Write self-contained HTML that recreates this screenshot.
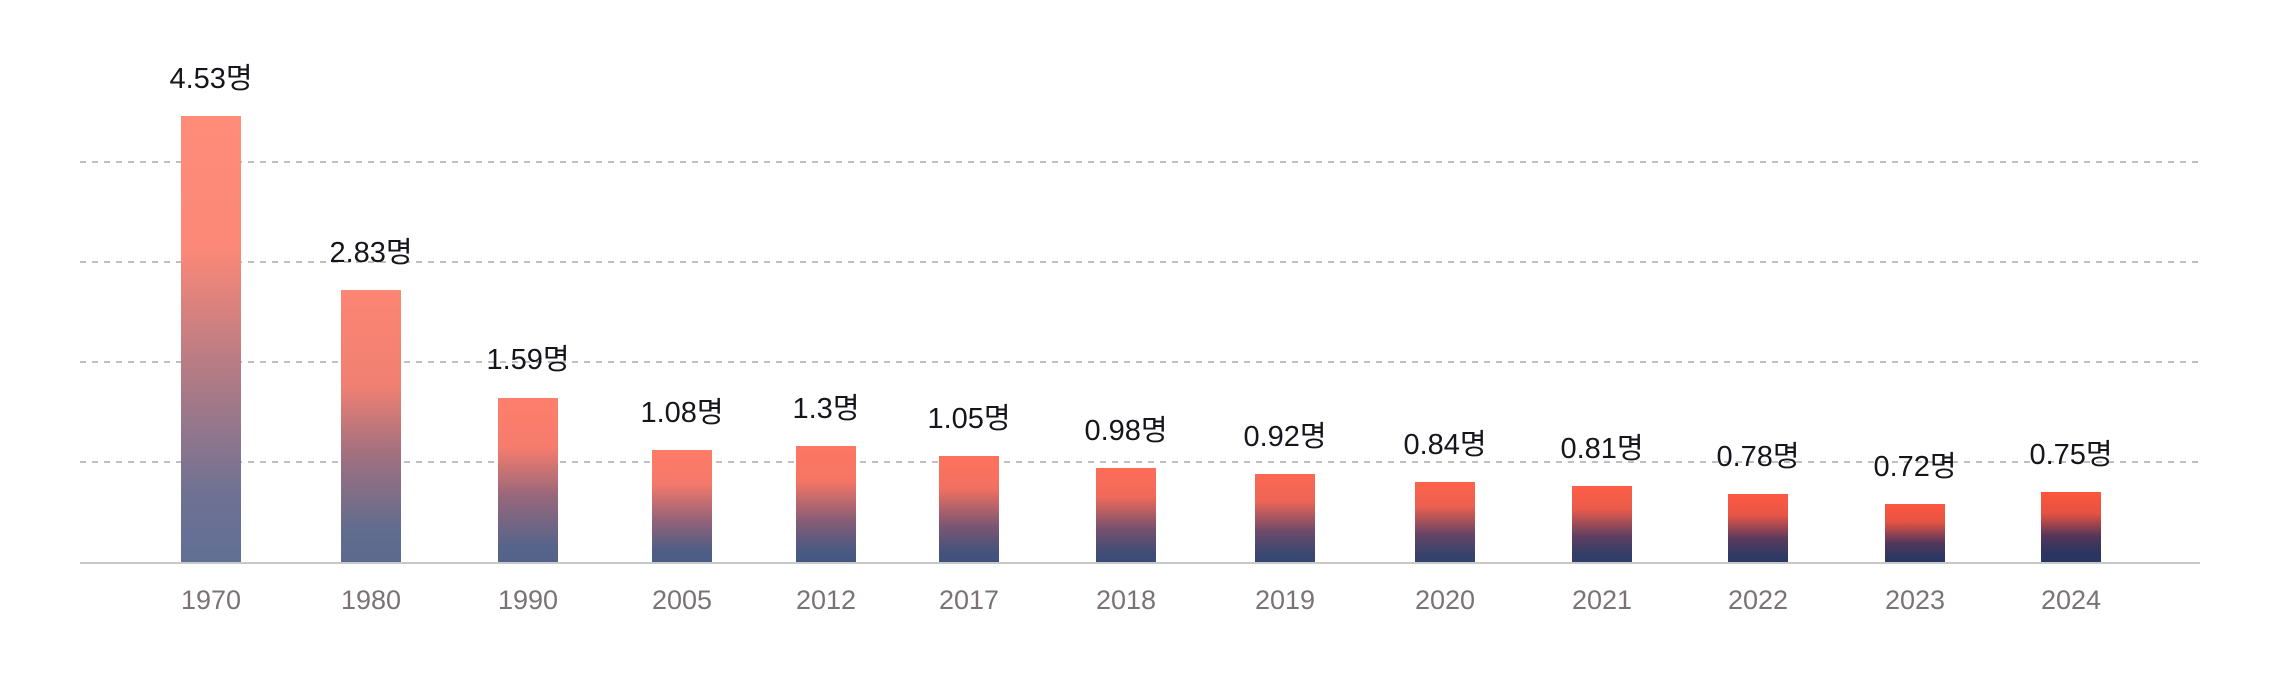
<!DOCTYPE html>
<html><head><meta charset="utf-8"><style>
html,body{margin:0;padding:0;background:#fff;}
svg{display:block;}
</style></head><body>
<svg width="2280" height="698" viewBox="0 0 2280 698" xmlns="http://www.w3.org/2000/svg">
<defs>
<linearGradient id="g0" x1="0" y1="0" x2="0" y2="1"><stop offset="0" stop-color="#FF8C79"/><stop offset="0.3" stop-color="#FB8878"/><stop offset="0.55" stop-color="#B97C84"/><stop offset="0.85" stop-color="#6E7193"/><stop offset="1" stop-color="#607095"/></linearGradient>
<linearGradient id="g1" x1="0" y1="0" x2="0" y2="1"><stop offset="0" stop-color="#FD8573"/><stop offset="0.35" stop-color="#F08072"/><stop offset="0.6" stop-color="#A2707F"/><stop offset="0.88" stop-color="#616C8E"/><stop offset="1" stop-color="#5C6A8E"/></linearGradient>
<linearGradient id="g2" x1="0" y1="0" x2="0" y2="1"><stop offset="0" stop-color="#FE7E6C"/><stop offset="0.3" stop-color="#F57C6C"/><stop offset="0.6" stop-color="#96677C"/><stop offset="0.9" stop-color="#56648A"/><stop offset="1" stop-color="#53628A"/></linearGradient>
<linearGradient id="g3" x1="0" y1="0" x2="0" y2="1"><stop offset="0" stop-color="#FE7B67"/><stop offset="0.3" stop-color="#F4796A"/><stop offset="0.65" stop-color="#8C6179"/><stop offset="0.9" stop-color="#4D5E86"/><stop offset="1" stop-color="#4B5C86"/></linearGradient>
<linearGradient id="g4" x1="0" y1="0" x2="0" y2="1"><stop offset="0" stop-color="#FE7762"/><stop offset="0.3" stop-color="#F47565"/><stop offset="0.65" stop-color="#845C76"/><stop offset="0.9" stop-color="#485A82"/><stop offset="1" stop-color="#465882"/></linearGradient>
<linearGradient id="g5" x1="0" y1="0" x2="0" y2="1"><stop offset="0" stop-color="#FE725D"/><stop offset="0.3" stop-color="#F27060"/><stop offset="0.65" stop-color="#7C5672"/><stop offset="0.9" stop-color="#43537C"/><stop offset="1" stop-color="#41517C"/></linearGradient>
<linearGradient id="g6" x1="0" y1="0" x2="0" y2="1"><stop offset="0" stop-color="#FE6D57"/><stop offset="0.3" stop-color="#F06A5A"/><stop offset="0.65" stop-color="#74506D"/><stop offset="0.9" stop-color="#3E4D76"/><stop offset="1" stop-color="#3C4B76"/></linearGradient>
<linearGradient id="g7" x1="0" y1="0" x2="0" y2="1"><stop offset="0" stop-color="#FE6852"/><stop offset="0.3" stop-color="#EE6555"/><stop offset="0.65" stop-color="#6C4A69"/><stop offset="0.9" stop-color="#394871"/><stop offset="1" stop-color="#374671"/></linearGradient>
<linearGradient id="g8" x1="0" y1="0" x2="0" y2="1"><stop offset="0" stop-color="#FE634C"/><stop offset="0.3" stop-color="#EC604F"/><stop offset="0.65" stop-color="#664465"/><stop offset="0.9" stop-color="#35436C"/><stop offset="1" stop-color="#33416C"/></linearGradient>
<linearGradient id="g9" x1="0" y1="0" x2="0" y2="1"><stop offset="0" stop-color="#FE5E47"/><stop offset="0.3" stop-color="#EA5B4B"/><stop offset="0.65" stop-color="#603F61"/><stop offset="0.9" stop-color="#313E68"/><stop offset="1" stop-color="#303D68"/></linearGradient>
<linearGradient id="g10" x1="0" y1="0" x2="0" y2="1"><stop offset="0" stop-color="#FE5942"/><stop offset="0.3" stop-color="#E85646"/><stop offset="0.65" stop-color="#5A3A5D"/><stop offset="0.9" stop-color="#2E3A64"/><stop offset="1" stop-color="#2D3964"/></linearGradient>
<linearGradient id="g11" x1="0" y1="0" x2="0" y2="1"><stop offset="0" stop-color="#FE563F"/><stop offset="0.3" stop-color="#E65343"/><stop offset="0.65" stop-color="#56375A"/><stop offset="0.9" stop-color="#2C3761"/><stop offset="1" stop-color="#2B3761"/></linearGradient>
<linearGradient id="g12" x1="0" y1="0" x2="0" y2="1"><stop offset="0" stop-color="#FF553D"/><stop offset="0.3" stop-color="#E55242"/><stop offset="0.62" stop-color="#553658"/><stop offset="0.85" stop-color="#2B3660"/><stop offset="1" stop-color="#2A3560"/></linearGradient>
</defs>
<g stroke="#c0c0c0" stroke-width="2" stroke-dasharray="6 6">
<line x1="80" y1="162" x2="2200" y2="162"/>
<line x1="80" y1="262" x2="2200" y2="262"/>
<line x1="80" y1="362" x2="2200" y2="362"/>
<line x1="80" y1="462" x2="2200" y2="462"/>
</g>
<g>
<rect x="181" y="116" width="60" height="447" fill="url(#g0)"/>
<rect x="341" y="290" width="60" height="273" fill="url(#g1)"/>
<rect x="498" y="398" width="60" height="165" fill="url(#g2)"/>
<rect x="652" y="450" width="60" height="113" fill="url(#g3)"/>
<rect x="796" y="446" width="60" height="117" fill="url(#g4)"/>
<rect x="939" y="456" width="60" height="107" fill="url(#g5)"/>
<rect x="1096" y="468" width="60" height="95" fill="url(#g6)"/>
<rect x="1255" y="474" width="60" height="89" fill="url(#g7)"/>
<rect x="1415" y="482" width="60" height="81" fill="url(#g8)"/>
<rect x="1572" y="486" width="60" height="77" fill="url(#g9)"/>
<rect x="1728" y="494" width="60" height="69" fill="url(#g10)"/>
<rect x="1885" y="504" width="60" height="59" fill="url(#g11)"/>
<rect x="2041" y="492" width="60" height="71" fill="url(#g12)"/>
</g>
<line x1="80" y1="563" x2="2200" y2="563" stroke="#c8c8c8" stroke-width="2"/>
<g font-family="'Liberation Sans','Noto Sans CJK KR',sans-serif" font-size="29" fill="#15151c" text-anchor="middle">
<text x="211" y="88">4.53명</text>
<text x="371" y="262">2.83명</text>
<text x="528" y="369">1.59명</text>
<text x="682" y="422">1.08명</text>
<text x="826" y="418">1.3명</text>
<text x="969" y="428">1.05명</text>
<text x="1126" y="440">0.98명</text>
<text x="1285" y="446">0.92명</text>
<text x="1445" y="454">0.84명</text>
<text x="1602" y="458">0.81명</text>
<text x="1758" y="466">0.78명</text>
<text x="1915" y="476">0.72명</text>
<text x="2071" y="464">0.75명</text>
</g>
<g font-family="'Liberation Sans',sans-serif" font-size="27" fill="#7a7374" text-anchor="middle">
<text x="211" y="609">1970</text>
<text x="371" y="609">1980</text>
<text x="528" y="609">1990</text>
<text x="682" y="609">2005</text>
<text x="826" y="609">2012</text>
<text x="969" y="609">2017</text>
<text x="1126" y="609">2018</text>
<text x="1285" y="609">2019</text>
<text x="1445" y="609">2020</text>
<text x="1602" y="609">2021</text>
<text x="1758" y="609">2022</text>
<text x="1915" y="609">2023</text>
<text x="2071" y="609">2024</text>
</g>
</svg>
</body></html>
